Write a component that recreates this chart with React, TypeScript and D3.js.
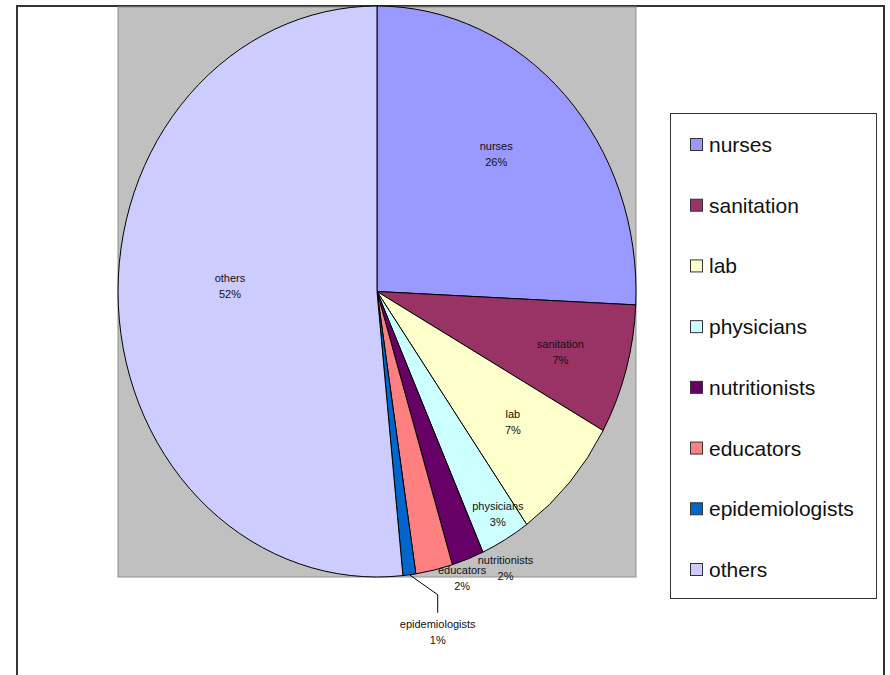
import React, { useEffect, useRef } from "react";
import * as d3 from "d3";

const categories = ["nurses", "sanitation", "lab", "physicians", "nutritionists", "educators", "epidemiologists", "others"];
const values = [25.75, 7.35, 7.1, 3.1, 2.0, 2.3, 0.8, 51.6];
const pctLabels = ["26%", "7%", "7%", "3%", "2%", "2%", "1%", "52%"];
const colors = ["#9999FF", "#993366", "#FFFFCC", "#CCFFFF", "#660066", "#FF8080", "#0066CC", "#CCCCFF"];
// label nudges (pixels) relative to the centroid at 0.7 radius
const labelNudges: [number, number][] = [
  [-12, 0], [9, 6], [1, -3], [31, 49], [65, 89], [45, 92], [38, 142], [34, -16],
];

const W = 890, H = 675;

export default function App() {
  const ref = useRef<SVGSVGElement>(null);
  useEffect(() => {
    const svg = d3.select(ref.current);
    svg.selectAll("*").remove();

    // outer frame
    svg.append("rect").attr("x", 0).attr("y", 0).attr("width", W).attr("height", H).attr("fill", "#fff");
    svg.append("path").attr("d", `M17,${H + 5} L17,6 L884,6 L884,${H + 5}`)
      .attr("fill", "none").attr("stroke", "#333").attr("stroke-width", 2);

    // plot area
    const px0 = 118, px1 = 636, py0 = 7, py1 = 577;
    svg.append("rect").attr("x", px0).attr("y", py0).attr("width", px1 - px0).attr("height", py1 - py0)
      .attr("fill", "#C0C0C0").attr("stroke", "#909090").attr("stroke-width", 1);

    const cx = (px0 + px1) / 2, cy = (6 + py1) / 2;
    const rx = (px1 - px0) / 2, ry = (py1 - 6) / 2;

    const pie = d3.pie<number>().sort(null).value((d) => d);
    const arcs = pie(values);
    const arc = d3.arc<d3.PieArcDatum<number>>().innerRadius(0).outerRadius(1);

    const g = svg.append("g").attr("transform", `translate(${cx},${cy}) scale(${rx},${ry})`);
    g.selectAll("path").data(arcs).enter().append("path")
      .attr("d", (d) => arc(d) as string)
      .attr("fill", (_, i) => colors[i])
      .attr("stroke", "#000")
      .attr("stroke-width", 1)
      .attr("vector-effect", "non-scaling-stroke");

    const pt = (a: number, k: number): [number, number] => [cx + rx * k * Math.sin(a), cy - ry * k * Math.cos(a)];

    const fs = 11;
    arcs.forEach((d, i) => {
      const mid = (d.startAngle + d.endAngle) / 2;
      const [bx, by] = pt(mid, 0.7);
      const lx = bx + labelNudges[i][0];
      const ly = by + labelNudges[i][1];
      const t = svg.append("text").attr("x", lx).attr("y", ly - 4)
        .attr("text-anchor", "middle").attr("font-family", "Liberation Sans, Arial, sans-serif")
        .attr("font-size", fs).attr("fill", "#111");
      t.append("tspan").attr("x", lx).attr("dy", 0).text(categories[i]);
      t.append("tspan").attr("x", lx).attr("dy", 16).text(pctLabels[i]);
      if (categories[i] === "epidemiologists") {
        const [sx, sy] = pt(mid, 1);
        svg.append("path")
          .attr("d", `M${sx},${sy} L${lx},${sy + 20} L${lx},${ly - 19}`)
          .attr("fill", "none").attr("stroke", "#000").attr("stroke-width", 1);
      }
    });

    // legend
    const lgX = 670, lgY = 113, lgW = 206, lgH = 485;
    svg.append("rect").attr("x", lgX + 0.5).attr("y", lgY + 0.5).attr("width", lgW).attr("height", lgH)
      .attr("fill", "#fff").attr("stroke", "#333").attr("stroke-width", 1);
    const ly = d3.scalePoint<string>().domain(categories).range([145, 570]);
    categories.forEach((c, i) => {
      const y = ly(c) as number;
      svg.append("rect").attr("x", 690.5).attr("y", y - 6.5).attr("width", 12).attr("height", 12)
        .attr("fill", colors[i]).attr("stroke", "#333").attr("stroke-width", 1);
      svg.append("text").attr("x", 709).attr("y", y + 7)
        .attr("font-family", "Liberation Sans, Arial, sans-serif").attr("font-size", 21)
        .attr("fill", "#111").text(c);
    });
  }, []);
  return <svg ref={ref} width={W} height={H} style={{ position: "absolute", left: 0, top: 0 }} />;
}
